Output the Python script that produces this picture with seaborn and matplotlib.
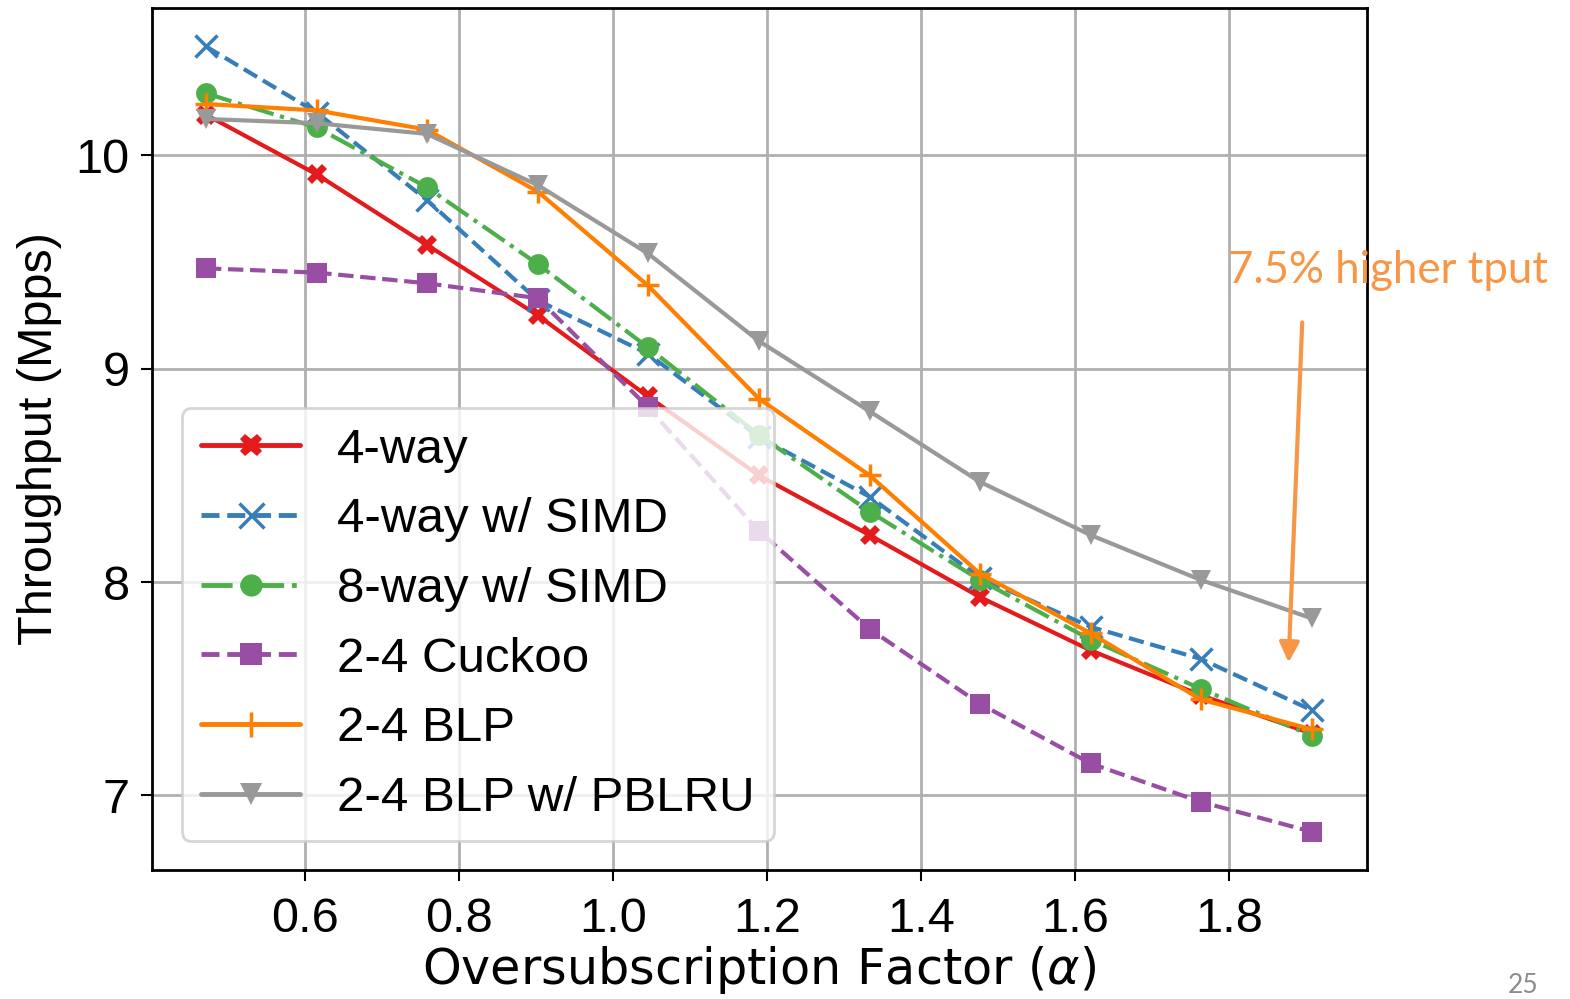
import matplotlib
matplotlib.use("Agg")
import matplotlib.pyplot as plt
import seaborn as sns
import pandas as pd

alpha = [0.471, 0.615, 0.758, 0.902, 1.045, 1.189, 1.333, 1.476, 1.620, 1.763, 1.907]
way4 = [10.19, 9.91, 9.58, 9.25, 8.87, 8.50, 8.22, 7.93, 7.68, 7.47, 7.29]
way4_simd = [10.51, 10.20, 9.79, 9.32, 9.07, 8.68, 8.40, 8.02, 7.79, 7.64, 7.40]
way8_simd = [10.29, 10.13, 9.85, 9.49, 9.10, 8.69, 8.33, 8.01, 7.73, 7.50, 7.28]
cuckoo = [9.47, 9.45, 9.40, 9.33, 8.82, 8.24, 7.78, 7.43, 7.15, 6.97, 6.83]
blp = [10.24, 10.21, 10.12, 9.83, 9.39, 8.86, 8.50, 8.04, 7.76, 7.45, 7.31]
blp_pblru = [10.17, 10.15, 10.10, 9.86, 9.54, 9.13, 8.80, 8.47, 8.22, 8.01, 7.83]

labels = ["4-way", "4-way w/ SIMD", "8-way w/ SIMD", "2-4 Cuckoo", "2-4 BLP", "2-4 BLP w/ PBLRU"]
series = [way4, way4_simd, way8_simd, cuckoo, blp, blp_pblru]
colors = ["#e41a1c", "#377eb8", "#4daf4a", "#984ea3", "#ff7f00", "#999999"]
markers = ["X", "x", "o", "s", "+", "v"]
styles = ["-", "--", "-.", "--", "-", "-"]

sns.set_theme(style="ticks")
plt.rcParams['font.family'] = ['Liberation Sans', 'DejaVu Sans']
plt.rcParams['mathtext.fontset'] = 'dejavusans'
plt.rcParams['text.color'] = 'black'

fig = plt.figure(figsize=(15.7, 9.99), dpi=100)
ax = fig.add_axes([0.0968, 0.129, 0.7739, 0.863])

for lab, ys, c, m, ls in zip(labels, series, colors, markers, styles):
    df = pd.DataFrame({"x": alpha, "y": ys})
    line_marker = m in ("x", "+")
    sns.lineplot(data=df, x="x", y="y", ax=ax, color=c, marker=m, linestyle=ls,
                 linewidth=3, markersize=16 if line_marker else 15,
                 markeredgewidth=2.5 if line_marker else 0,
                 markeredgecolor=c, markerfacecolor=c,
                 label=lab, zorder=3)

ax.set_xlim(0.401, 1.979)
ax.set_ylim(6.65, 10.69)
ax.set_xticks([0.6, 0.8, 1.0, 1.2, 1.4, 1.6, 1.8])
ax.set_xticklabels(["0.6", "0.8", "1.0", "1.2", "1.4", "1.6", "1.8"])
ax.set_yticks([7, 8, 9, 10])
ax.grid(True, color="#b0b0b0", linewidth=2, zorder=0)
ax.set_axisbelow(True)
for s in ax.spines.values():
    s.set_color("black")
    s.set_linewidth(2)
ax.tick_params(axis="both", labelsize=35, width=1.5, length=8, color="black", labelcolor="black")
ax.tick_params(axis="x", pad=11)
ax.tick_params(axis="y", pad=8)
ax.set_xlabel(r"Oversubscription Factor ($\alpha$)", fontsize=35.5, color="black", labelpad=2,
              family="DejaVu Sans")
ax.set_ylabel("Throughput (Mpps)", fontsize=35, color="black", labelpad=10)

leg = ax.legend(loc="lower left", fontsize=35.5, framealpha=0.8, edgecolor="#cccccc",
                handlelength=2.0, borderaxespad=0.6, labelspacing=0.5, handletextpad=0.75)
leg.get_frame().set_linewidth(2)
for t in leg.get_texts():
    t.set_color("black")
for h, m in zip(leg.legend_handles, markers):
    h.set_markersize(18 if m in ("x", "+") else 16)
    h.set_linewidth(3.5)

ax.annotate("", xy=(1.877, 7.61), xytext=(1.895, 9.23), annotation_clip=False,
            arrowprops=dict(arrowstyle="-|>", color="#f79646", lw=3, mutation_scale=30))
ax.text(2.006, 9.46, "7.5% higher tput", color="#f79646", fontsize=31.5,
        family=["Lato", "DejaVu Sans"], ha="center", va="center", clip_on=False)
fig.text(0.970, 0.014, "25", color="#8c8c8c", fontsize=19, ha="center", va="center",
         family=["Lato", "DejaVu Sans"])

fig.savefig("out.png", dpi=100)
